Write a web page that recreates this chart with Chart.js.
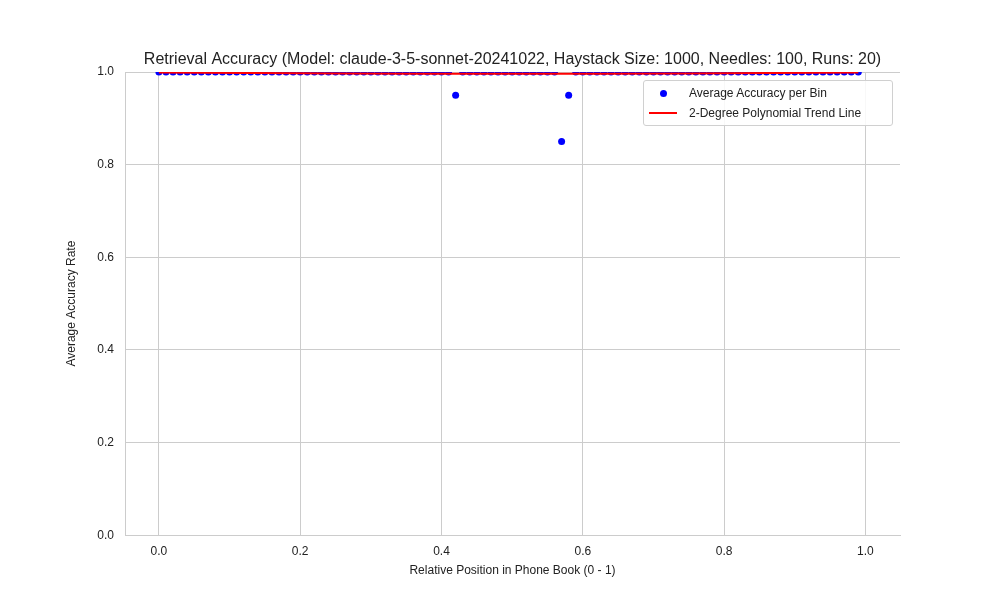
<!DOCTYPE html>
<html>
<head>
<meta charset="utf-8">
<script src="https://cdn.jsdelivr.net/npm/chart.js@4"></script>
<style>
  body { margin: 0; background: #fff; font-family: "Liberation Sans", Arial, sans-serif; }
  #wrap { position: relative; width: 1000px; height: 600px; }
  #legend {
    position: absolute; left: 643px; top: 80px; width: 250px; height: 46px;
    border: 1px solid #d0d0d0; border-radius: 3px; background: rgba(255,255,255,0.85);
    font-size: 12px; color: #222; box-sizing: border-box;
  }
  .row { position: absolute; left: 0; height: 20px; line-height: 20px; white-space: nowrap; }
  .dot { position: absolute; left: 16px; top: 7px; width: 7px; height: 7px; border-radius: 50%; background: blue; }
  .ln { position: absolute; left: 5px; top: 9px; width: 28px; height: 2px; background: red; }
  .txt { position: absolute; left: 45px; }
</style>
</head>
<body>
<div id="wrap">
  <canvas id="c" width="1000" height="600"></canvas>
  <div id="legend">
    <div class="row" style="top:2px"><span class="dot"></span><span class="txt">Average Accuracy per Bin</span></div>
    <div class="row" style="top:22px"><span class="ln"></span><span class="txt">2-Degree Polynomial Trend Line</span></div>
  </div>
</div>
<script>
// bin positions 0.00 .. 0.99
const binPositions = [
  0.00,0.01,0.02,0.03,0.04,0.05,0.06,0.07,0.08,0.09,
  0.10,0.11,0.12,0.13,0.14,0.15,0.16,0.17,0.18,0.19,
  0.20,0.21,0.22,0.23,0.24,0.25,0.26,0.27,0.28,0.29,
  0.30,0.31,0.32,0.33,0.34,0.35,0.36,0.37,0.38,0.39,
  0.40,0.41,0.42,0.43,0.44,0.45,0.46,0.47,0.48,0.49,
  0.50,0.51,0.52,0.53,0.54,0.55,0.56,0.57,0.58,0.59,
  0.60,0.61,0.62,0.63,0.64,0.65,0.66,0.67,0.68,0.69,
  0.70,0.71,0.72,0.73,0.74,0.75,0.76,0.77,0.78,0.79,
  0.80,0.81,0.82,0.83,0.84,0.85,0.86,0.87,0.88,0.89,
  0.90,0.91,0.92,0.93,0.94,0.95,0.96,0.97,0.98,0.99
];
const binAccuracy = [
  1,1,1,1,1,1,1,1,1,1,
  1,1,1,1,1,1,1,1,1,1,
  1,1,1,1,1,1,1,1,1,1,
  1,1,1,1,1,1,1,1,1,1,
  1,1,0.95,1,1,1,1,1,1,1,
  1,1,1,1,1,1,1,0.85,0.95,1,
  1,1,1,1,1,1,1,1,1,1,
  1,1,1,1,1,1,1,1,1,1,
  1,1,1,1,1,1,1,1,1,1,
  1,1,1,1,1,1,1,1,1,1
];
const trendX = [0.00, 0.25, 0.50, 0.75, 0.99];
const trendY = [0.999, 0.997, 0.996, 0.997, 0.999];
const titleText = 'Retrieval Accuracy (Model: claude-3-5-sonnet-20241022, Haystack Size: 1000, Needles: 100, Runs: 20)';

const titlePlugin = {
  id: 'plotTitle',
  afterDraw(chart) {
    const { ctx, chartArea } = chart;
    ctx.save();
    ctx.font = '16px "Liberation Sans", Arial, sans-serif';
    ctx.fillStyle = '#222';
    ctx.textAlign = 'center';
    ctx.textBaseline = 'alphabetic';
    ctx.fillText(titleText, (chartArea.left + chartArea.right) / 2, chartArea.top - 8);
    ctx.restore();
  }
};

const font = { family: '"Liberation Sans", Arial, sans-serif', size: 12 };
new Chart(document.getElementById('c'), {
  type: 'scatter',
  data: {
    datasets: [
      {
        label: 'Average Accuracy per Bin',
        data: binPositions.map((x, i) => ({ x, y: binAccuracy[i] })),
        backgroundColor: 'blue', borderWidth: 0, pointRadius: 3.5, order: 2
      },
      {
        label: '2-Degree Polynomial Trend Line',
        type: 'line',
        data: trendX.map((x, i) => ({ x, y: trendY[i] })),
        borderColor: 'red', borderWidth: 2, pointRadius: 0, tension: 0.4, order: 1
      }
    ]
  },
  options: {
    responsive: false, animation: false,
    layout: { padding: { left: 60, right: 100, top: 72, bottom: 18 } },
    plugins: { legend: { display: false }, tooltip: { enabled: false } },
    scales: {
      x: {
        min: -0.048, max: 1.049,
        afterBuildTicks: a => { a.ticks = [0,0.2,0.4,0.6,0.8,1].map(v => ({ value: v })); },
        ticks: { font, color: '#222', callback: v => v.toFixed(1), maxRotation: 0 },
        grid: { color: '#cccccc', tickLength: 6, tickColor: 'transparent' },
        border: { color: '#cccccc' },
        title: { display: true, text: 'Relative Position in Phone Book (0 - 1)', font, color: '#222', padding: { top: 2 } }
      },
      y: {
        min: 0, max: 1,
        ticks: { stepSize: 0.2, font, color: '#222', callback: v => v.toFixed(1) },
        grid: { color: '#cccccc', tickColor: 'transparent' },
        border: { color: '#cccccc' },
        title: { display: true, text: 'Average Accuracy Rate', font, color: '#222' },
        afterFit: a => { a.width = 65; }
      }
    }
  },
  plugins: [titlePlugin]
});
</script>
</body>
</html>
